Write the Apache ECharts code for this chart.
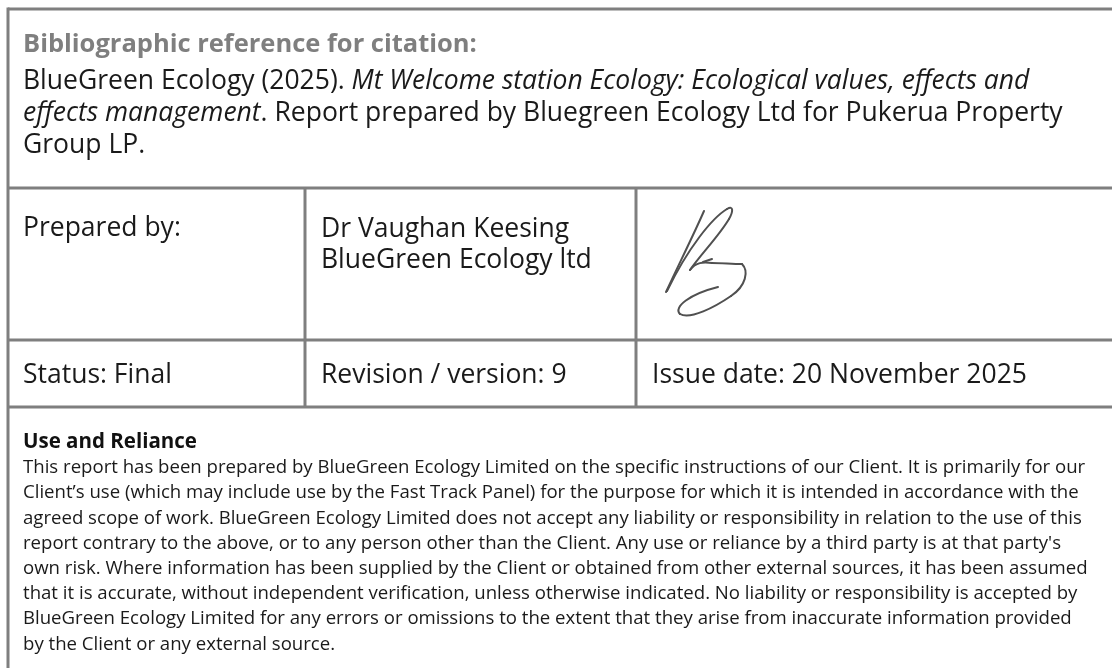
<!DOCTYPE html>
<html>
<head>
<meta charset="utf-8">
<title>Bibliographic reference</title>
<script src="https://cdn.jsdelivr.net/npm/echarts@6/dist/echarts.min.js"></script>
<style>
  html, body { margin: 0; padding: 0; background: #fff; }
  #sheet { width: 1112px; height: 668px; }
</style>
</head>
<body>
<div id="sheet"></div>
<script>
// text content of the sheet
const citationTitle = 'Bibliographic reference for citation:';
const citationLines = [
  [['BlueGreen Ecology (2025). ', 'n'], ['Mt Welcome station Ecology: Ecological values, effects and', 'i']],
  [['effects management', 'i'], ['. Report prepared by Bluegreen Ecology Ltd for Pukerua Property', 'n']],
  [['Group LP.', 'n']]
];
const preparedCells = ['Prepared by:', 'Dr Vaughan Keesing', 'BlueGreen Ecology ltd'];
const statusCells = ['Status: Final', 'Revision / version: 9', 'Issue date: 20 November 2025'];
const relianceTitle = 'Use and Reliance';
const relianceLines = [
  'This report has been prepared by BlueGreen Ecology Limited on the specific instructions of our Client. It is primarily for our',
  'Client\u2019s use (which may include use by the Fast Track Panel) for the purpose for which it is intended in accordance with the',
  'agreed scope of work. BlueGreen Ecology Limited does not accept any liability or responsibility in relation to the use of this',
  'report contrary to the above, or to any person other than the Client. Any use or reliance by a third party is at that party\'s',
  'own risk. Where information has been supplied by the Client or obtained from other external sources, it has been assumed',
  'that it is accurate, without independent verification, unless otherwise indicated. No liability or responsibility is accepted by',
  'BlueGreen Ecology Limited for any errors or omissions to the extent that they arise from inaccurate information provided',
  'by the Client or any external source.'
];

// layout
const FONT = '"Open Sans", "Noto Sans", sans-serif';
const rule = '#7f7f7f';
const ink = '#1a1a1a';
const colX = [8, 305, 636];
const rowY = [9, 188, 340, 407];
const textX = [23, 321, 652];
const big = 26.5;
const small = 18.6;

const chart = echarts.init(document.getElementById('sheet'));
const els = [];

function line(x1, y1, x2, y2) {
  els.push({
    type: 'line', silent: true,
    shape: { x1: x1, y1: y1, x2: x2, y2: y2 },
    style: { stroke: rule, lineWidth: 3 }
  });
}
function label(x, y, text, size, extra) {
  els.push({
    type: 'text', x: x, y: y, silent: true,
    style: Object.assign({
      text: text, fill: ink, fontFamily: FONT, fontSize: size,
      verticalAlign: 'middle', align: 'left'
    }, extra || {})
  });
}
function curve(p) {
  els.push({
    type: 'bezierCurve', silent: true,
    shape: { x1: p[0], y1: p[1], cpx1: p[2], cpy1: p[3], cpx2: p[4], cpy2: p[5], x2: p[6], y2: p[7] },
    style: { stroke: '#505050', lineWidth: 2, fill: null, lineCap: 'round' }
  });
}

// table rules
line(colX[0], rowY[0], 1112, rowY[0]);
line(colX[0], rowY[1], 1112, rowY[1]);
line(colX[0], rowY[2], 1112, rowY[2]);
line(colX[0], rowY[3], 1112, rowY[3]);
line(colX[0], rowY[0] - 1.5, colX[0], 668);
line(colX[1], rowY[1], colX[1], rowY[3]);
line(colX[2], rowY[1], colX[2], rowY[3]);

// citation block
label(textX[0], 45, citationTitle, 25.5, { fill: '#7f7f7f', fontWeight: 'bold' });
const rich = {
  n: { fontFamily: FONT, fontSize: big, fill: ink },
  i: { fontFamily: FONT, fontSize: big, fill: ink, fontStyle: 'italic' }
};
citationLines.forEach(function (parts, k) {
  const txt = parts.map(function (p) { return '{' + p[1] + '|' + p[0] + '}'; }).join('');
  label(textX[0], 81 + k * 32, txt, big, { rich: rich });
});

// prepared row
label(textX[0], 228, preparedCells[0], big);
label(textX[1], 229, preparedCells[1], big);
label(textX[1], 260, preparedCells[2], big);

// signature strokes
[
  [666, 292, 678, 266, 694, 234, 704, 211],
  [667, 291, 688, 248, 712, 218, 727, 209],
  [727, 209, 734, 205, 733, 212, 729, 219],
  [729, 219, 719, 236, 701, 254, 690, 270],
  [690, 270, 696, 262, 703, 262, 712, 263],
  [712, 263, 722, 263, 732, 264, 742, 264],
  [742, 264, 749, 271, 746, 286, 731, 296],
  [731, 296, 715, 307, 690, 320, 680, 314],
  [680, 314, 673, 307, 690, 294, 718, 287],
  [712, 259, 709, 260, 706, 261, 703, 262]
].forEach(curve);

// status row
statusCells.forEach(function (t, k) { label(textX[k], 375, t, big); });

// use and reliance
label(textX[0], 442, relianceTitle, 20.5, { fontWeight: 'bold', fill: '#111' });
relianceLines.forEach(function (t, k) { label(textX[0], 468 + k * 25.2, t, small); });

chart.setOption({ animation: false, graphic: { elements: els } });
</script>
</body>
</html>
